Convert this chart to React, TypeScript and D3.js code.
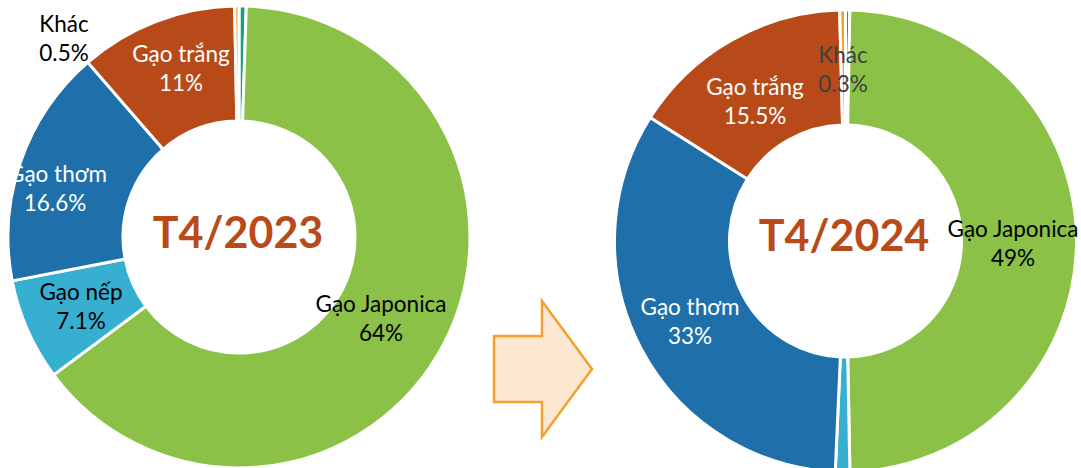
import React from "react";
import * as d3 from "d3";

// Rice export structure, April 2023 vs April 2024 (% share)
const categories = ["Khác", "Gạo Japonica", "Gạo nếp", "Gạo thơm", "Gạo trắng", "Tấm"];
const values2023 = [0.5, 64, 7.1, 16.6, 11, 0.3];
const values2024 = [0.3, 49, 1.0, 33, 15.5, 0.4];
const labels2023 = ["0.5%", "64%", "7.1%", "16.6%", "11%", ""];
const labels2024 = ["0.3%", "49%", "", "33%", "15.5%", ""];
const titles = ["T4/2023", "T4/2024"];

const colors: Record<string, string> = {
  "Khác": "#1a9f7a",
  "Gạo Japonica": "#8bc147",
  "Gạo nếp": "#37afd1",
  "Gạo thơm": "#1f6faa",
  "Gạo trắng": "#b84a19",
  "Tấm": "#f2a230",
};

type LabelPos = { x: number; y: number; color: string; anchor?: "start" | "middle" | "end"; x1?: number };

// label placement per slice (baseline of the first line)
const labelPos2023: (LabelPos | null)[] = [
  { x: 64, y: 32, color: "#000" },
  { x: 381, y: 312, color: "#000" },
  { x: 81, y: 300, color: "#000" },
  { x: 107, y: 182, color: "#fff", anchor: "end", x1: 55 },
  { x: 181, y: 62, color: "#fff" },
  null,
];
const labelPos2024: (LabelPos | null)[] = [
  { x: 843, y: 63, color: "#404040" },
  { x: 1013, y: 237, color: "#000" },
  null,
  { x: 690, y: 315, color: "#fff" },
  { x: 755, y: 95, color: "#fff" },
  null,
];

const FONT = "Lato, 'Noto Sans', sans-serif";

function Donut({ cx, cy, values, labels, pos, title, titleY, titleX }: {
  cx: number; cy: number; values: number[]; labels: string[];
  pos: (LabelPos | null)[]; title: string; titleX: number; titleY: number;
}) {
  const pie = d3.pie<number>().sort(null).value((d) => d).startAngle(0).endAngle(2 * Math.PI);
  const arc = d3.arc<d3.PieArcDatum<number>>().innerRadius(116).outerRadius(231);
  const arcs = pie(values);
  return (
    <g>
      <g transform={`translate(${cx},${cy})`}>
        {arcs.map((a, i) => (
          <path key={i} d={arc(a) || ""} fill={colors[categories[i]]} stroke="#fff" strokeWidth={3} />
        ))}
      </g>
      {pos.map((p, i) =>
        p ? (
          <text key={i} fill={p.color} fontFamily={FONT} fontSize={22.5}>
            <tspan x={p.x} y={p.y} textAnchor={p.anchor || "middle"}>{categories[i]}</tspan>
            <tspan x={p.x1 ?? p.x} y={p.y + 29} textAnchor="middle">{labels[i]}</tspan>
          </text>
        ) : null
      )}
      <text x={titleX} y={titleY} textAnchor="middle" fontFamily={FONT} fontWeight={700}
        fontSize={43} fill="#b94a1a">{title}</text>
    </g>
  );
}

export default function App() {
  const arrow = [
    [494, 336], [542, 336], [542, 301], [592, 369], [542, 437], [542, 402], [494, 402],
  ];
  const arrowPath = d3.line()(arrow as [number, number][]) + "Z";
  return (
    <svg width={1081} height={468} style={{ position: "absolute", left: 0, top: 0, background: "#fff" }}>
      <rect width={1081} height={468} fill="#fff" />
      <Donut cx={239} cy={237} values={values2023} labels={labels2023} pos={labelPos2023}
        title={titles[0]} titleX={238} titleY={248} />
      <Donut cx={845.5} cy={241} values={values2024} labels={labels2024} pos={labelPos2024}
        title={titles[1]} titleX={844} titleY={251} />
      <path d={arrowPath} fill="#fce8d0" stroke="#f2a030" strokeWidth={2.5} strokeLinejoin="miter" />
    </svg>
  );
}
